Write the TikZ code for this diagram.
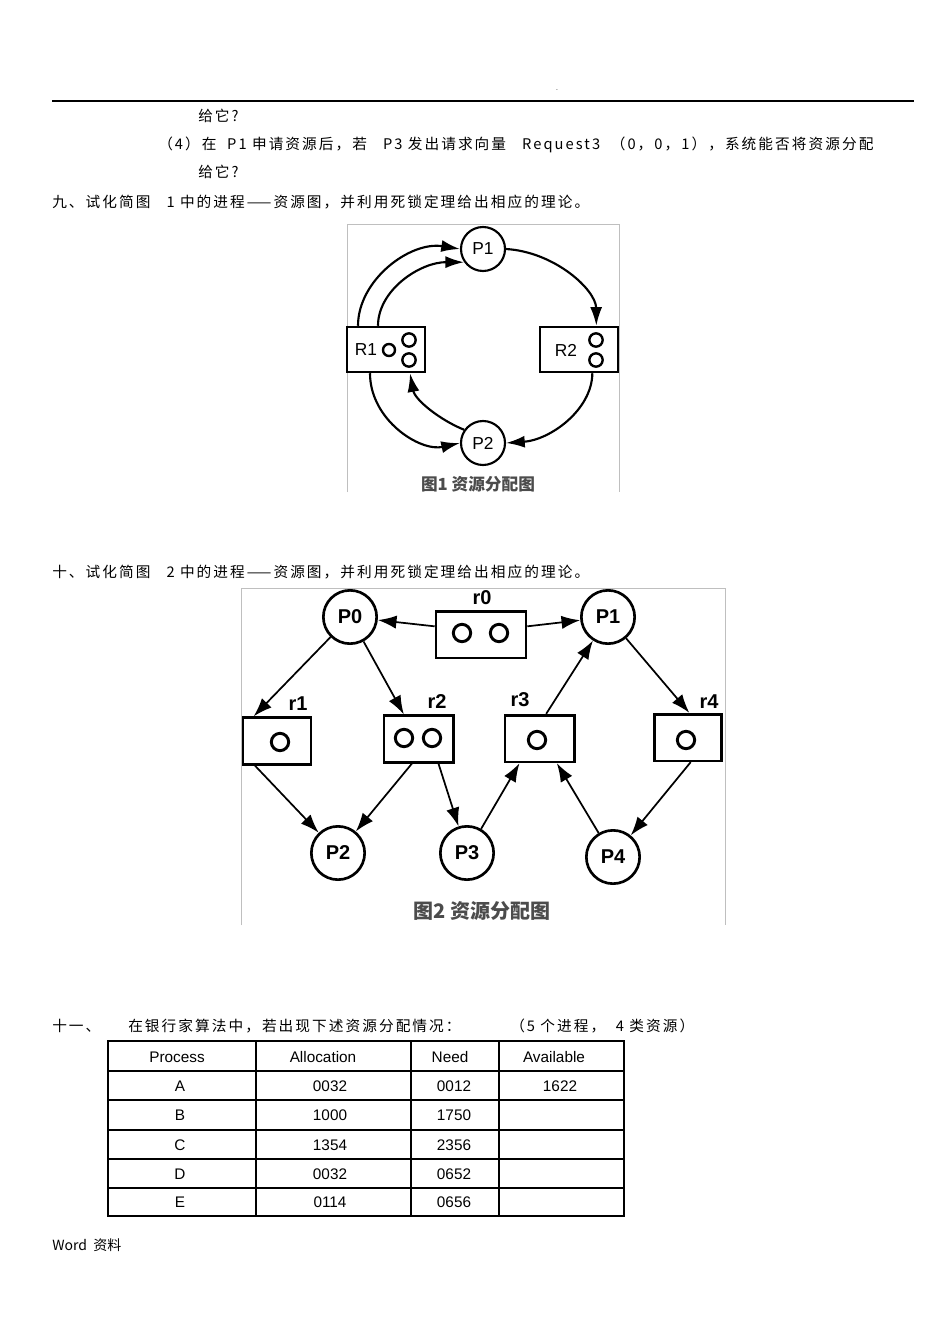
\documentclass[tikz,border=0pt]{standalone}
\usepackage{fontspec}
\setmainfont{Liberation Sans}
\newfontfamily\cjk{Noto Sans CJK SC}
\newfontfamily\cjks[LetterSpace=14]{Noto Sans CJK SC}
\usetikzlibrary{arrows.meta}
\begin{document}
\begin{tikzpicture}[x=0.75pt,y=-0.75pt,
  txt/.style={anchor=west,inner sep=0pt,font=\cjks\fontsize{11}{13}\selectfont},
  pa/.style={circle,draw,line width=1.6pt,minimum size=33pt,inner sep=0pt,fill=white,font=\fontsize{13}{15}\selectfont},
  ra/.style={draw,line width=1.6pt,minimum width=58.5pt,minimum height=34pt,inner sep=0pt},
  pb/.style={circle,draw,line width=2pt,minimum size=40pt,inner sep=0pt,fill=white,font=\bfseries\fontsize{15}{17}\selectfont},
  rb/.style={draw,line width=2pt,minimum height=35pt,inner sep=0pt},
  tok/.style={circle,draw,line width=1.8pt,inner sep=0pt,minimum size=10pt},
  tokb/.style={circle,draw,line width=2.2pt,inner sep=0pt,minimum size=13pt},
  lab/.style={font=\bfseries\fontsize{15}{17}\selectfont,inner sep=0pt},
  ea/.style={line width=1.6pt,-{Latex[length=14pt,width=9pt]}},
  eb/.style={line width=1.3pt,-{Latex[length=14pt,width=10pt]}},
  figcap/.style={inner sep=0pt,text=black!70,font=\cjk\bfseries\fontsize{12.5}{14}\selectfont},
  cell/.style={inner sep=0pt,font=\fontsize{11.5}{13}\selectfont}]
\useasboundingbox (0,0) rectangle (950,1344);
\fill[white] (0,0) rectangle (950,1344);
% header
\node[inner sep=0pt,font=\tiny] (dot) at (557,90) {.};
\draw[line width=0.8pt] (52,101) -- (914,101);
\node[txt] (t1) at (198,116) {给它?};
\node[txt] (t2) at (158,145) {（4）在\ \ P1 申请资源后，若 \ \ P3 发出请求向量\ \ \ Request3 \ （0，0，1），系统能否将资源分配};
\node[txt] (t3) at (198,172) {给它?};
\node[txt] (t4) at (52,202) {九、试化简图\ \ \ 1 中的进程——资源图，并利用死锁定理给出相应的理论。};
% figure 1
\draw[black!25,line width=0.6pt] (347,492) -- (347,224) -- (619,224) -- (619,492);
\node[pa] (P1) at (483,249) {P1};
\node[pa] (P2) at (483,443) {P2};
\node[ra] (R1) at (386,349.5) {};
\node[ra] (R2) at (579,349.5) {};
\node[inner sep=0pt,font=\fontsize{13}{15}\selectfont] (R1l) at (366,350) {R1};
\node[tok,minimum size=9pt] (R1a) at (389,350) {};
\node[tok] (R1b) at (409,340) {};
\node[tok] (R1c) at (409,360) {};
\node[inner sep=0pt,font=\fontsize{13}{15}\selectfont] (R2l) at (566,350) {R2};
\node[tok] (R2b) at (596,340) {};
\node[tok] (R2c) at (596,360) {};
\draw[ea] ([xshift=-21pt]R1.north) .. controls (358,280) and (410,241) .. (P1.west);
\draw[ea] ([xshift=-6pt]R1.north) .. controls (378,290) and (420,262) .. (P1.215);
\draw[ea] (P1.east) .. controls (555,252) and (596,290) .. ([xshift=13pt]R2.north);
\draw[ea] ([xshift=10pt]R2.south) .. controls (592,410) and (550,440) .. (P2.east);
\draw[ea] ([xshift=-12pt]R1.south) .. controls (370,420) and (420,452) .. (P2.west);
\draw[ea] (P2.145) .. controls (440,420) and (415,400) .. ([xshift=18pt]R1.south);
\node[figcap] (c1) at (478,484) {图1 资源分配图};
% section 10
\node[txt] (t5) at (52,572) {十、试化简图\ \ \ 2 中的进程——资源图，并利用死锁定理给出相应的理论。};
\draw[black!25,line width=0.6pt] (241,925) -- (241,588) -- (725,588) -- (725,925);
\node[pb] (Q0) at (350,617) {P0};
\node[pb] (Q1) at (608,617) {P1};
\node[pb] (Q2) at (338,853) {P2};
\node[pb] (Q3) at (467,853) {P3};
\node[pb] (Q4) at (613,857) {P4};
\node[rb,minimum width=67.5pt] (r0) at (481,634.5) {};
\node[rb,minimum width=51pt] (r1) at (277,741) {};
\node[rb,minimum width=52pt] (r2) at (418.5,739) {};
\node[rb,minimum width=52pt] (r3) at (539.5,738.5) {};
\node[rb,minimum width=50pt] (r4) at (688,737.5) {};
\node[lab] (l0) at (482,598) {r0};
\node[lab] (l1) at (298,704) {r1};
\node[lab] (l2) at (437,702) {r2};
\node[lab] (l3) at (520,700) {r3};
\node[lab] (l4) at (709,702) {r4};
\node[tokb] (k0a) at (462,633) {};
\node[tokb] (k0b) at (499,633) {};
\node[tokb] (k1) at (280,742) {};
\node[tokb] (k2a) at (404,738) {};
\node[tokb] (k2b) at (432,738) {};
\node[tokb] (k3) at (537,740) {};
\node[tokb] (k4) at (686,740) {};
\draw[eb] (r0.170) -- (Q0);
\draw[eb] (r0.10) -- (Q1);
\draw[eb] (Q0) -- ([xshift=9pt]r1.north west);
\draw[eb] (Q0) -- ([xshift=16pt]r2.north west);
\draw[eb] ([xshift=10pt]r1.south west) -- (Q2);
\draw[eb] ([xshift=22pt]r2.south west) -- (Q2);
\draw[eb] ([xshift=42pt]r2.south west) -- (Q3);
\draw[eb] (Q3) -- ([xshift=12pt]r3.south west);
\draw[eb] ([xshift=32pt]r3.north west) -- (Q1);
\draw[eb] (Q4) -- ([xshift=40pt]r3.south west);
\draw[eb] (Q1) -- ([xshift=-25pt]r4.north east);
\draw[eb] ([xshift=-24pt]r4.south east) -- (Q4);
\node[figcap,font=\cjk\bfseries\fontsize{15}{17}\selectfont] (c2) at (482,911) {图2 资源分配图};
% section 11
\node[txt] (t6) at (52,1026) {十一、};
\node[txt] (t7) at (128,1026) {在银行家算法中，若出现下述资源分配情况：};
\node[txt] (t8) at (510,1026) {（5 个进程，\ \ 4 类资源）};
\draw[line width=0.8pt] (108,1041) rectangle (624,1216);
\foreach \x in {256,411,499} \draw[line width=0.8pt] (\x,1041) -- (\x,1216);
\foreach \y in {1071,1100,1130,1159,1188} \draw[line width=0.8pt] (108,\y) -- (624,\y);
\node[cell] (h1) at (177,1057) {Process};
\node[cell] (h2) at (323,1057) {Allocation};
\node[cell] (h3) at (450,1057) {Need};
\node[cell] (h4) at (554,1057) {Available};
\node[cell] (a1) at (180,1086) {A};
\node[cell] (a2) at (330,1086) {0032};
\node[cell] (a3) at (454,1086) {0012};
\node[cell] (a4) at (560,1086) {1622};
\node[cell] (b1) at (180,1115) {B};
\node[cell] (b2) at (330,1115) {1000};
\node[cell] (b3) at (454,1115) {1750};
\node[cell] (c1t) at (180,1145) {C};
\node[cell] (c2t) at (330,1145) {1354};
\node[cell] (c3t) at (454,1145) {2356};
\node[cell] (d1) at (180,1174) {D};
\node[cell] (d2) at (330,1174) {0032};
\node[cell] (d3) at (454,1174) {0652};
\node[cell] (e1) at (180,1202) {E};
\node[cell] (e2) at (330,1202) {0114};
\node[cell] (e3) at (454,1202) {0656};
\node[txt,font=\cjk\fontsize{10.5}{12}\selectfont] (w) at (52,1245) {Word\ \ 资料};
\end{tikzpicture}
\end{document}
